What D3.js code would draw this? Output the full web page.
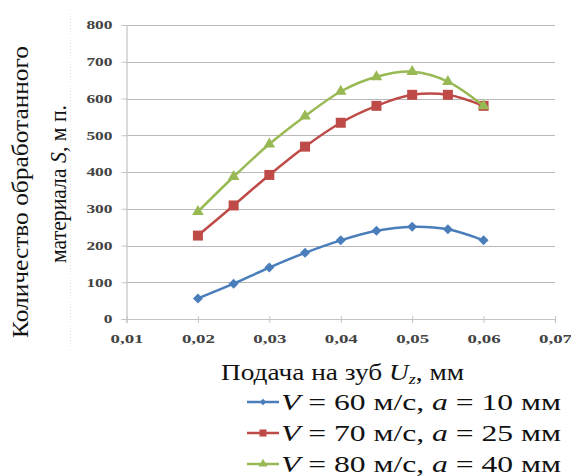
<!DOCTYPE html>
<html><head><meta charset="utf-8">
<script src="https://cdn.jsdelivr.net/npm/d3@7"></script>
</head>
<body style="margin:0">
<svg id="c" width="571" height="476"></svg>
<script>
const feed = [0.02,0.025,0.03,0.035,0.04,0.045,0.05,0.055,0.06];
const s60 = [56,96,140,180,214,240,251,244,214];
const s70 = [227,309,392,469,534,580,610,610,580];
const s80 = [292,387,476,552,619,659,673,646,580];
const xTicks = [0.01,0.02,0.03,0.04,0.05,0.06,0.07];
const yTicks = [0,100,200,300,400,500,600,700,800];
const seriesNames = ["60 м/с, ", "70 м/с, ", "80 м/с, "];
const seriesA = ["10 мм","25 мм","40 мм"];
const colors = ["#4A7EBB","#BE4B48","#98B954"];

const svg = d3.select("#c");
const x = d3.scaleLinear().domain([0.01,0.07]).range([126.5,555]);
const y = d3.scaleLinear().domain([0,800]).range([319,25]);
const setFont = (sel,size)=>sel.style("font-family",'"Liberation Serif"').style("font-size",size+"px");

// faint frame remnant
svg.append("line").attr("x1",70.5).attr("x2",70.5).attr("y1",10).attr("y2",350)
  .attr("stroke","#e6e6e6").attr("stroke-dasharray","1,2");

// gridlines
svg.append("g").selectAll("line").data(yTicks.filter(d=>d>0)).join("line")
  .attr("x1",x(0.01)).attr("x2",x(0.07))
  .attr("y1",d=>Math.round(y(d))+0.5).attr("y2",d=>Math.round(y(d))+0.5)
  .attr("stroke","#b8b8b8").attr("stroke-width",1.2);

// y axis
const gy = svg.append("g").attr("transform",`translate(${x(0.01)},0)`)
  .call(d3.axisLeft(y).tickValues(yTicks).tickSize(5).tickPadding(9).tickFormat(d3.format("d")));
gy.attr("font-family",null).attr("font-size",null);
gy.select(".domain").attr("stroke","#c4c4c4").attr("stroke-width",1.2);
gy.selectAll(".tick line").attr("stroke","#c4c4c4");
setFont(gy.selectAll("text"),12).style("font-weight","bold").attr("fill","#444")
  .attr("textLength",d=>String(d).length*8.7).attr("lengthAdjust","spacingAndGlyphs");

// x axis
const fmt = d=>d3.format(".2f")(d).replace(".",",");
const gx = svg.append("g").attr("transform",`translate(0,${y(0)})`)
  .call(d3.axisBottom(x).tickValues(xTicks).tickSize(4).tickPadding(11).tickFormat(fmt));
gx.attr("font-family",null).attr("font-size",null);
gx.select(".domain").attr("stroke","#c4c4c4").attr("stroke-width",1.2);
gx.selectAll(".tick line").attr("stroke","#c4c4c4").attr("y1",-3);
setFont(gx.selectAll("text"),12).style("font-weight","bold").attr("fill","#444")
  .attr("textLength",33).attr("lengthAdjust","spacingAndGlyphs");

// lines
const line = d3.line().x((d,i)=>x(feed[i])).y(d=>y(d)).curve(d3.curveCatmullRom.alpha(0));
const data = [s60,s70,s80];
const symPaths = [d3.symbol().type(d3.symbolSquare).size(50)(),
                  d3.symbol().type(d3.symbolSquare).size(100)(),
                  d3.symbol().type(d3.symbolTriangle).size(58)()];
const symRot = [45,0,0];
data.forEach((s,k)=>{
  svg.append("path").attr("d",line(s)).attr("fill","none").attr("stroke",colors[k]).attr("stroke-width",2.5);
  svg.append("g").selectAll("path").data(s).join("path")
    .attr("d",symPaths[k])
    .attr("transform",(d,i)=>`translate(${x(feed[i])},${y(d)}) rotate(${symRot[k]})`)
    .attr("fill",colors[k]);
});

// y title
const yt = setFont(svg.append("text"),23).attr("fill","#111").attr("text-anchor","middle").attr("transform","rotate(-90)");
yt.append("tspan").attr("x",-192).attr("y",28).attr("textLength",292).attr("lengthAdjust","spacingAndGlyphs").text("Количество обработанного");
const yt2 = setFont(svg.append("text"),23).attr("fill","#111").attr("text-anchor","middle").attr("transform","rotate(-90)")
  .attr("x",-184).attr("y",66).attr("textLength",158).attr("lengthAdjust","spacingAndGlyphs");
yt2.append("tspan").text("материала ");
yt2.append("tspan").style("font-style","italic").text("S");
yt2.append("tspan").text(", м п.");

// x title
const xt = setFont(svg.append("text"),23).attr("x",221).attr("y",380)
  .attr("fill","#111").attr("textLength",243).attr("lengthAdjust","spacingAndGlyphs");
xt.append("tspan").text("Подача на зуб ");
xt.append("tspan").style("font-style","italic").text("U");
xt.append("tspan").style("font-style","italic").style("font-size","15px").attr("dy",4).text("z");
xt.append("tspan").attr("dy",-4).text(", мм");

// legend
const ly = [402,433,464];
const legSym = [d3.symbol().type(d3.symbolSquare).size(22)(),
                d3.symbol().type(d3.symbolSquare).size(50)(),
                d3.symbol().type(d3.symbolTriangle).size(35)()];
seriesNames.forEach((n,k)=>{
  const g = svg.append("g");
  g.append("line").attr("x1",247).attr("x2",279).attr("y1",ly[k]).attr("y2",ly[k])
    .attr("stroke",colors[k]).attr("stroke-width",2.5);
  g.append("path").attr("d",legSym[k])
    .attr("transform",`translate(263,${ly[k]}) rotate(${symRot[k]})`).attr("fill",colors[k]);
  const t = setFont(g.append("text"),23).attr("x",281).attr("y",ly[k]+7.5)
    .attr("fill","#111").attr("textLength",280).attr("lengthAdjust","spacingAndGlyphs");
  t.append("tspan").style("font-style","italic").text("V");
  t.append("tspan").text(" = "+n);
  t.append("tspan").style("font-style","italic").text("a");
  t.append("tspan").text(" = "+seriesA[k]);
});
</script>
</body></html>
